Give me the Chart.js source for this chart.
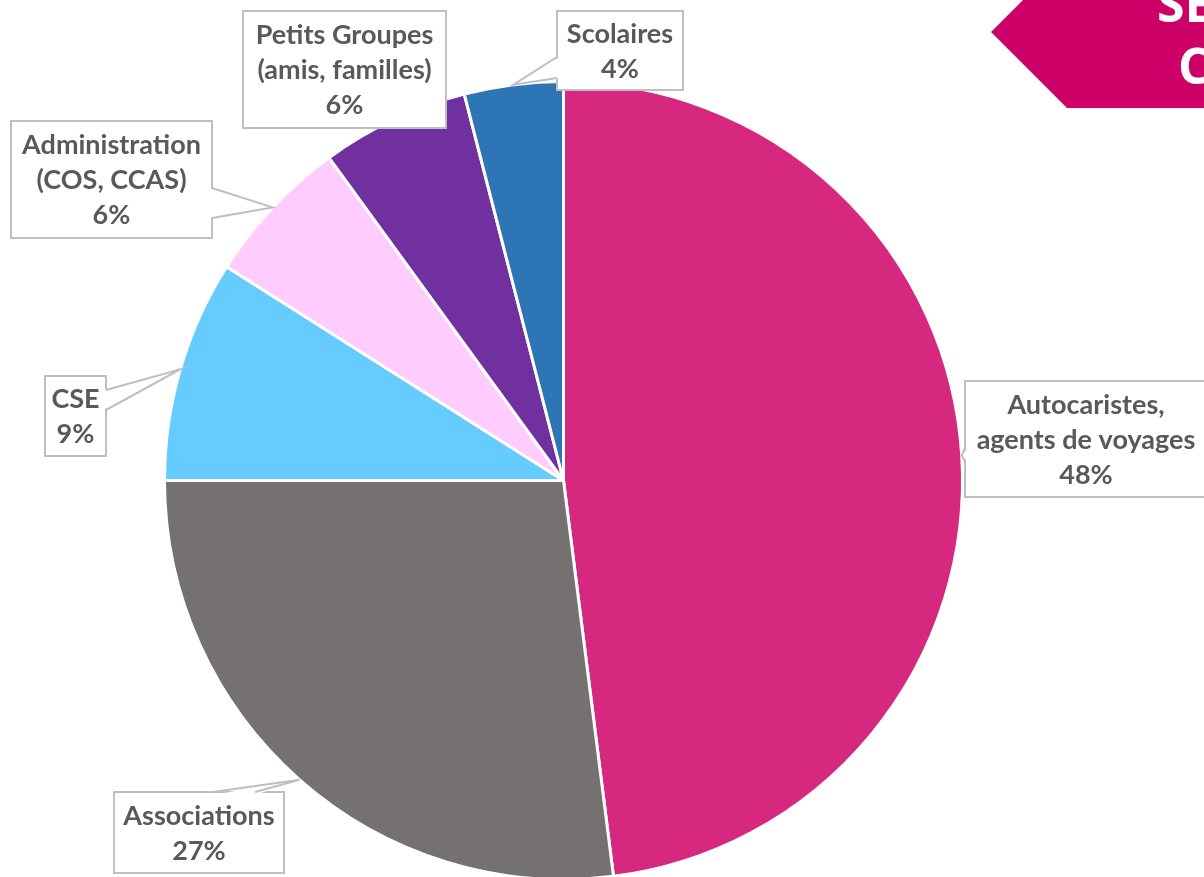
<!DOCTYPE html>
<html>
<head>
<meta charset="utf-8">
<script src="https://cdn.jsdelivr.net/npm/chart.js@4.4.0/dist/chart.umd.min.js"></script>
<style>
  html, body { margin: 0; padding: 0; background: #fff; overflow: hidden; }
  canvas { display: block; }
</style>
</head>
<body>
<canvas id="pieChart" width="1204" height="881"></canvas>
<script>
// Répartition de la clientèle groupes
const categories = ['Autocaristes, agents de voyages', 'Associations', 'CSE', 'Administration (COS, CCAS)', 'Petits Groupes (amis, familles)', 'Scolaires'];
const labelLines = [
    ['Autocaristes,', 'agents de voyages'],
    ['Associations'],
    ['CSE'],
    ['Administration', '(COS, CCAS)'],
    ['Petits Groupes', '(amis, familles)'],
    ['Scolaires']
];
const shares = [48, 27, 9, 6, 6, 4];
const sliceColors = ['#D6287F', '#767171', '#66CCFF', '#FFCCFF', '#7030A0', '#2E75B6'];

// Callout boxes (layout only)
const calloutBoxes = [
    { x: 965, y: 381, w: 242, h: 116, wedge: { side: 'left', from: 448, to: 462 } },
    { x: 114, y: 792, w: 170, h: 81, wedge: { side: 'top', from: 213, to: 255 } },
    { x: 45, y: 376, w: 61, h: 80, wedge: { side: 'right', from: 390, to: 410 } },
    { x: 11, y: 121, w: 201, h: 117, wedge: { side: 'right', from: 188, to: 218 } },
    { x: 243, y: 11, w: 203, h: 117, wedge: null },
    { x: 557, y: 11, w: 126, h: 79, wedge: { side: 'left', from: 57, to: 78 } }
];

const labelFont = 'bold 27px Lato';
const labelColor = '#595959';
const lineHeight = 35;

function wedgeBase(box) {
    const wg = box.wedge;
    if (wg.side === 'left') return [{ x: box.x, y: wg.from }, { x: box.x, y: wg.to }, { x: 3, y: 0 }];
    if (wg.side === 'right') return [{ x: box.x + box.w, y: wg.from }, { x: box.x + box.w, y: wg.to }, { x: -3, y: 0 }];
    if (wg.side === 'top') return [{ x: wg.from, y: box.y }, { x: wg.to, y: box.y }, { x: 0, y: 3 }];
    return [{ x: wg.from, y: box.y + box.h }, { x: wg.to, y: box.y + box.h }, { x: 0, y: -3 }];
}

const headerPlugin = {
    id: 'header',
    afterDraw(chart) {
        const ctx = chart.ctx;
        ctx.save();
        ctx.fillStyle = '#CC0066';
        ctx.beginPath();
        ctx.moveTo(991, 32);
        ctx.lineTo(1067, -44);
        ctx.lineTo(1210, -44);
        ctx.lineTo(1210, 108);
        ctx.lineTo(1067, 108);
        ctx.closePath();
        ctx.fill();
        ctx.fillStyle = '#fff';
        ctx.font = 'bold 50px "Open Sans"';
        ctx.textAlign = 'left';
        ctx.textBaseline = 'alphabetic';
        ctx.fillText('SEGMENTS', 1157, 22);
        ctx.fillText('CLIENTÈLE', 1178, 84);
        ctx.restore();
    }
};

const calloutPlugin = {
    id: 'callouts',
    afterDatasetsDraw(chart) {
        const ctx = chart.ctx;
        const arcs = chart.getDatasetMeta(0).data;
        ctx.save();
        arcs.forEach((arc, i) => {
            const box = calloutBoxes[i];
            ctx.lineWidth = 2;
            ctx.strokeStyle = '#BFBFBF';
            ctx.fillStyle = '#fff';
            ctx.fillRect(box.x, box.y, box.w, box.h);
            ctx.strokeRect(box.x, box.y, box.w, box.h);

            if (box.wedge) {
                const mid = (arc.startAngle + arc.endAngle) / 2;
                const r = arc.outerRadius;
                const tip = { x: arc.x + Math.cos(mid) * r, y: arc.y + Math.sin(mid) * r };
                const [b1, b2, off] = wedgeBase(box);
                ctx.beginPath();
                ctx.moveTo(tip.x, tip.y);
                ctx.lineTo(b1.x + off.x, b1.y + off.y);
                ctx.lineTo(b2.x + off.x, b2.y + off.y);
                ctx.closePath();
                ctx.fill();
                ctx.beginPath();
                ctx.moveTo(b1.x, b1.y);
                ctx.lineTo(tip.x, tip.y);
                ctx.lineTo(b2.x, b2.y);
                ctx.stroke();
            }

            const lines = labelLines[i].concat([shares[i] + '%']);
            ctx.font = labelFont;
            ctx.fillStyle = labelColor;
            ctx.textAlign = 'center';
            ctx.textBaseline = 'middle';
            const cx = box.x + box.w / 2;
            const cy = box.y + box.h / 2;
            const startY = cy - (lines.length - 1) * lineHeight / 2;
            lines.forEach((line, k) => {
                ctx.fillText(line, cx, startY + k * lineHeight + 1);
            });
        });
        ctx.restore();
    }
};

const ctx = document.getElementById('pieChart').getContext('2d');
new Chart(ctx, {
    type: 'pie',
    data: {
        labels: categories,
        datasets: [{
            data: shares,
            backgroundColor: sliceColors,
            borderColor: '#ffffff',
            borderWidth: 3
        }]
    },
    options: {
        responsive: false,
        animation: false,
        layout: {
            padding: { left: 163, right: 240, top: 80, bottom: 0 }
        },
        plugins: {
            legend: { display: false },
            tooltip: { enabled: false }
        }
    },
    plugins: [calloutPlugin, headerPlugin]
});
</script>
</body>
</html>
